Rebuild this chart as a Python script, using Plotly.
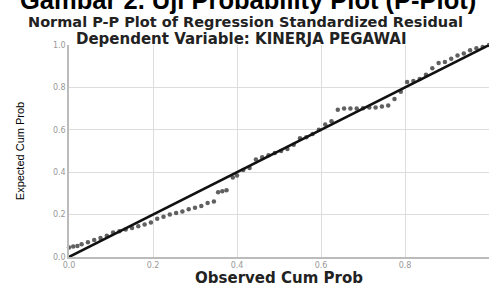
import plotly.graph_objects as go

observed_cum_prob = [0.000, 0.010, 0.020, 0.030, 0.045, 0.060, 0.075, 0.090, 0.105, 0.120,
                     0.135, 0.150, 0.165, 0.180, 0.195, 0.210, 0.225, 0.240, 0.255, 0.270,
                     0.285, 0.300, 0.315, 0.330, 0.345, 0.355, 0.365, 0.375, 0.390, 0.400,
                     0.415, 0.430, 0.445, 0.460, 0.475, 0.490, 0.505, 0.520, 0.535, 0.550,
                     0.565, 0.580, 0.595, 0.610, 0.625, 0.640, 0.655, 0.670, 0.685, 0.700,
                     0.715, 0.730, 0.745, 0.760, 0.775, 0.790, 0.805, 0.820, 0.835, 0.850,
                     0.865, 0.880, 0.895, 0.910, 0.925, 0.940, 0.955, 0.970, 0.985, 1.000]
expected_cum_prob = [0.045, 0.050, 0.052, 0.060, 0.070, 0.080, 0.090, 0.100, 0.115, 0.122,
                     0.130, 0.137, 0.145, 0.153, 0.163, 0.180, 0.190, 0.200, 0.207, 0.215,
                     0.225, 0.232, 0.240, 0.255, 0.262, 0.305, 0.310, 0.315, 0.375, 0.385,
                     0.410, 0.420, 0.460, 0.470, 0.480, 0.490, 0.500, 0.510, 0.530, 0.560,
                     0.565, 0.580, 0.600, 0.625, 0.640, 0.695, 0.700, 0.700, 0.700, 0.702,
                     0.705, 0.705, 0.710, 0.715, 0.745, 0.780, 0.825, 0.830, 0.840, 0.860,
                     0.890, 0.915, 0.920, 0.935, 0.950, 0.960, 0.975, 0.985, 0.990, 1.000]
ref_line = [0.0, 1.0]
tick_vals = [0.0, 0.2, 0.4, 0.6, 0.8, 1.0]
x_tick_text = ["0.0", "0.2", "0.4", "0.6", "0.8", "1.0"]
y_tick_text = ["0.0", "0.2", "0.4", "0.6", "0.8", "1.0"]

fig = go.Figure()
fig.add_trace(go.Scatter(x=observed_cum_prob, y=expected_cum_prob, mode="markers",
                         marker=dict(size=4.5, color="#606060"), showlegend=False, cliponaxis=False))
fig.add_trace(go.Scatter(x=ref_line, y=ref_line, mode="lines",
                         line=dict(color="#111111", width=2.5), showlegend=False, cliponaxis=False))

axis_common = dict(range=[0, 1], tickvals=tick_vals, showgrid=True, gridcolor="#dddddd", gridwidth=1,
                   zeroline=False, showline=True, linecolor="#bbbbbb", linewidth=1.5, ticks="",
                   tickfont=dict(family="DejaVu Sans", size=8, color="#999999"))
fig.update_xaxes(**axis_common, ticktext=x_tick_text,
                 title=dict(text="<b>Observed Cum Prob</b>", standoff=6,
                            font=dict(family="DejaVu Sans", size=15, color="#222222")))
fig.update_yaxes(**axis_common, ticktext=y_tick_text,
                 title=dict(text="Expected Cum Prob", standoff=26,
                            font=dict(family="Liberation Sans Narrow, Liberation Sans", size=11, color="#000000")))

fig.add_annotation(text="<b>Gambar 2. Uji Probability Plot (P-Plot)</b>", xref="paper", yref="paper",
                   x=0.426, y=1.212, xanchor="center", yanchor="middle", showarrow=False,
                   font=dict(family="Liberation Sans", size=25.5, color="#000000"))
fig.add_annotation(text="<b>Normal P-P Plot of Regression Standardized Residual</b>", xref="paper", yref="paper",
                   x=0.42, y=1.11, xanchor="center", yanchor="middle", showarrow=False,
                   font=dict(family="DejaVu Sans", size=14.5, color="#222222"))
fig.add_annotation(text="<b>Dependent Variable: KINERJA PEGAWAI</b>", xref="paper", yref="paper",
                   x=0.41, y=1.03, xanchor="center", yanchor="middle", showarrow=False,
                   font=dict(family="DejaVu Sans", size=15, color="#222222"))

fig.update_layout(width=489, height=287, margin=dict(l=69, r=0, t=45, b=30),
                  plot_bgcolor="white", paper_bgcolor="white")
fig.write_html("out.html", config={"displayModeBar": False},
               post_script="document.body.style.margin='0';document.body.style.overflow='hidden';")
